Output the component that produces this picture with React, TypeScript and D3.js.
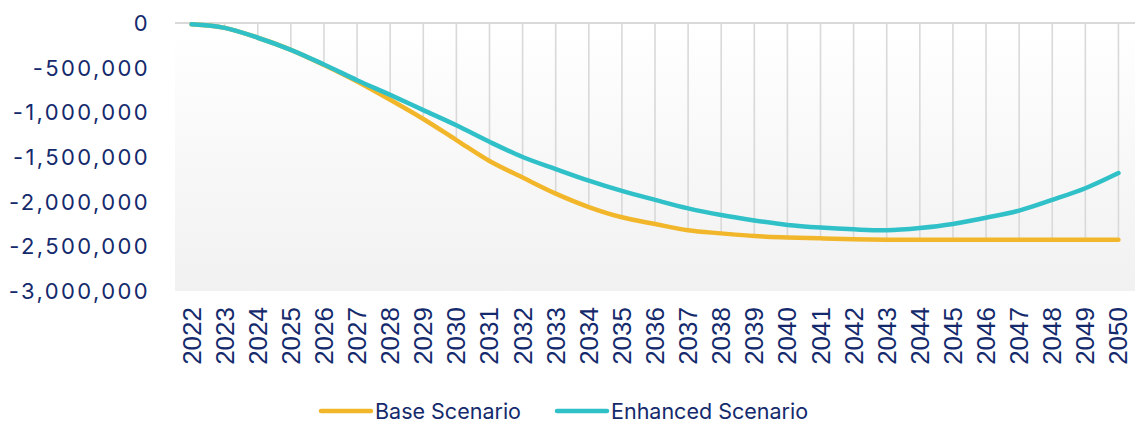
import * as d3 from 'd3'

const years = ['2022', '2023', '2024', '2025', '2026', '2027', '2028', '2029', '2030', '2031', '2032', '2033', '2034', '2035', '2036', '2037', '2038', '2039', '2040', '2041', '2042', '2043', '2044', '2045', '2046', '2047', '2048', '2049', '2050']

const baseScenario = [-15000, -55000, -165000, -300000, -470000, -655000, -860000, -1075000, -1310000, -1545000, -1730000, -1910000, -2060000, -2175000, -2250000, -2320000, -2355000, -2385000, -2400000, -2410000, -2420000, -2425000, -2425000, -2425000, -2425000, -2425000, -2425000, -2425000, -2425000]

const enhancedScenario = [-15000, -55000, -165000, -300000, -465000, -640000, -805000, -975000, -1145000, -1330000, -1500000, -1635000, -1765000, -1880000, -1980000, -2075000, -2150000, -2210000, -2260000, -2290000, -2310000, -2320000, -2295000, -2250000, -2180000, -2100000, -1980000, -1850000, -1680000]

const yTicks = [0, -500000, -1000000, -1500000, -2000000, -2500000, -3000000]

const legendItems = [
  { label: 'Base Scenario', color: '#f2b62a' },
  { label: 'Enhanced Scenario', color: '#30c0c8' },
]

const W = 1135
const H = 423
const plot = { left: 175, right: 1135, top: 23, bottom: 291 }
const navy = '#142a6c'

export default function App() {
  const x = d3.scalePoint<string>().domain(years).range([plot.left, plot.right]).padding(0.5)
  const y = d3.scaleLinear().domain([-3000000, 0]).range([plot.bottom, plot.top])
  const fmt = d3.format(',')

  const line = d3.line<number>()
    .x((_, i) => x(years[i])!)
    .y(d => y(d))
    .curve(d3.curveCatmullRom.alpha(0.5))

  const series = [baseScenario, enhancedScenario]

  return (
    <svg width={W} height={H} style={{ position: 'absolute', left: 0, top: 0, background: '#fff' }}>
      <defs>
        <linearGradient id="plotBg" x1="0" y1="0" x2="0" y2="1">
          <stop offset="0%" stopColor="#ffffff" />
          <stop offset="100%" stopColor="#f1f1f1" />
        </linearGradient>
      </defs>
      <rect x={plot.left} y={plot.top} width={plot.right - plot.left} height={plot.bottom - plot.top} fill="url(#plotBg)" />

      {/* drop lines */}
      {years.map((yr, i) => (
        <line key={yr} x1={x(yr)} x2={x(yr)} y1={y(0)} y2={y(Math.min(baseScenario[i], enhancedScenario[i]))}
          stroke="#d9d9d9" strokeWidth={1.6} />
      ))}

      <line x1={plot.left} x2={plot.right} y1={y(0)} y2={y(0)} stroke="#d9d9d9" strokeWidth={2} />

      {series.map((s, k) => (
        <path key={k} d={line(s)!} fill="none" stroke={legendItems[k].color} strokeWidth={4.5}
          strokeLinecap="round" strokeLinejoin="round" />
      ))}

      {/* y axis labels */}
      {yTicks.map(t => (
        <text key={t} x={150} y={y(t)} textAnchor="end" dominantBaseline="central"
          fontFamily="Inter, sans-serif" fontSize={22} letterSpacing={2.4} fill={navy}>
          {fmt(t).replace('−', '-')}
        </text>
      ))}

      {/* x axis labels */}
      {years.map(yr => (
        <text key={yr} transform={`translate(${x(yr)},${307}) rotate(-90)`} textAnchor="end"
          dominantBaseline="central" fontFamily="'Liberation Sans', Arial, sans-serif" fontSize={26} fill={navy}>
          {yr}
        </text>
      ))}

      {/* legend */}
      {legendItems.map((it, k) => {
        const lx = k === 0 ? 321 : 557
        return (
          <g key={it.label}>
            <line x1={lx} x2={lx + 50} y1={411} y2={411} stroke={it.color} strokeWidth={4.5} strokeLinecap="round" />
            <text x={lx + 54} y={411} dominantBaseline="central" fontFamily="Inter, sans-serif" fontSize={21.5} fill={navy}>
              {it.label}
            </text>
          </g>
        )
      })}
    </svg>
  )
}
